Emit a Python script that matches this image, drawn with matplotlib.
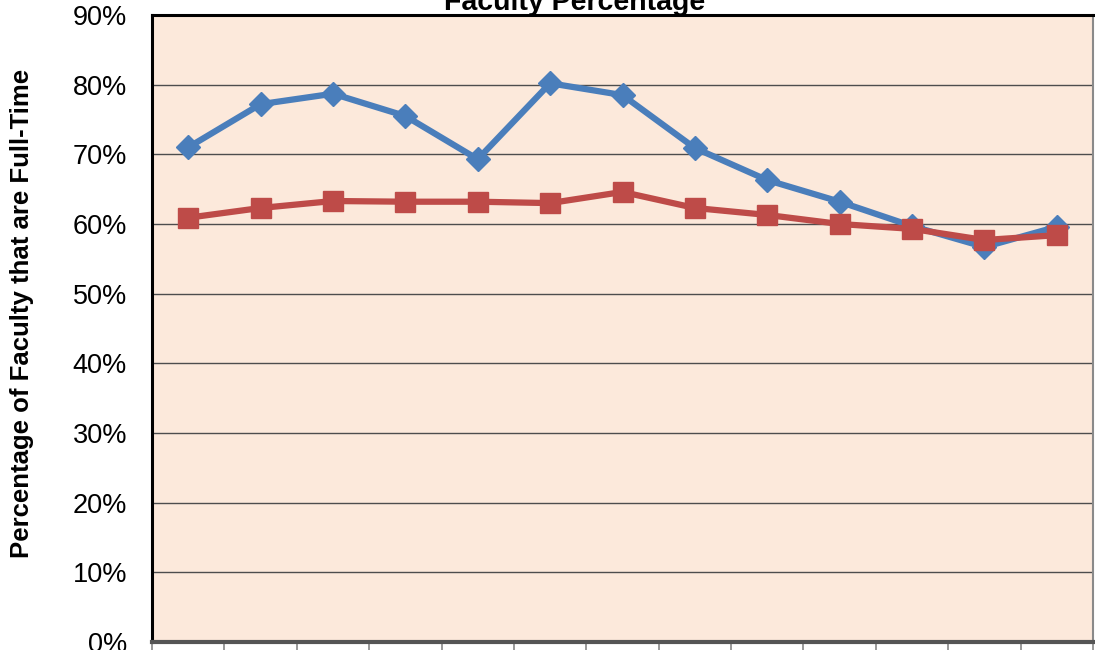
import matplotlib
matplotlib.use("Agg")
import matplotlib.pyplot as plt
import numpy as np

plt.rcParams['font.family'] = ['Liberation Sans', 'DejaVu Sans']

# Data (x tick labels are cropped out of the reference)
categories = [""] * 13
series_blue = [71.0, 77.2, 78.7, 75.5, 69.3, 80.2, 78.5, 70.9, 66.3, 63.2, 59.7, 56.7, 59.6]
series_red = [60.9, 62.3, 63.3, 63.2, 63.2, 63.0, 64.6, 62.3, 61.3, 60.0, 59.3, 57.7, 58.4]
y_ticks = [0, 10, 20, 30, 40, 50, 60, 70, 80, 90]
y_tick_labels = [f"{v}%" for v in y_ticks]
title = "Faculty Percentage"
y_label = "Percentage of Faculty that are Full-Time"

W, H = 1095, 650
fig = plt.figure(figsize=(W / 100, H / 100), dpi=100)
fig.patch.set_facecolor("white")
ax = fig.add_axes([152 / W, 8 / H, (1093 - 152) / W, (642 - 15) / H])
ax.set_facecolor("#FCE9DB")

x = np.arange(len(series_blue))
ax.plot(x, series_blue, color="#4A7EBB", lw=4.5, marker="D", ms=12.5,
        markeredgecolor="#4A7EBB", zorder=3, solid_joinstyle="round")
ax.plot(x, series_red, color="#BE4B48", lw=4.5, marker="s", ms=14,
        markeredgecolor="#BE4B48", zorder=4, solid_joinstyle="round")

ax.set_xlim(-0.5, len(x) - 0.5)
ax.set_ylim(0, 90)
ax.set_yticks(y_ticks)
ax.set_yticklabels(y_tick_labels, fontsize=19.5)
ax.tick_params(axis="y", length=0, pad=18)
ax.set_xticks(np.arange(-0.5, len(x), 1.0))
ax.set_xticklabels([""] * (len(x) + 1))
ax.tick_params(axis="x", length=12, width=1.2, color="#888888", direction="out")
ax.grid(axis="y", color="#4d4d4d", lw=1.0, zorder=1)
ax.set_axisbelow(True)

for side, c, w in [("left", "black", 2.2), ("top", "black", 2.2),
                   ("right", "#8a8a8a", 1.5), ("bottom", "#555555", 3.0)]:
    ax.spines[side].set_color(c)
    ax.spines[side].set_linewidth(w)

fig.text(575 / W, 1 - 10 / H, title, ha="center", va="baseline",
         fontsize=20.5, fontweight="bold")
fig.text(22 / W, 1 - 313 / H, y_label, rotation=90, ha="center", va="center",
         fontsize=18.5, fontweight="bold")

fig.savefig("out.png", dpi=100, facecolor="white")
